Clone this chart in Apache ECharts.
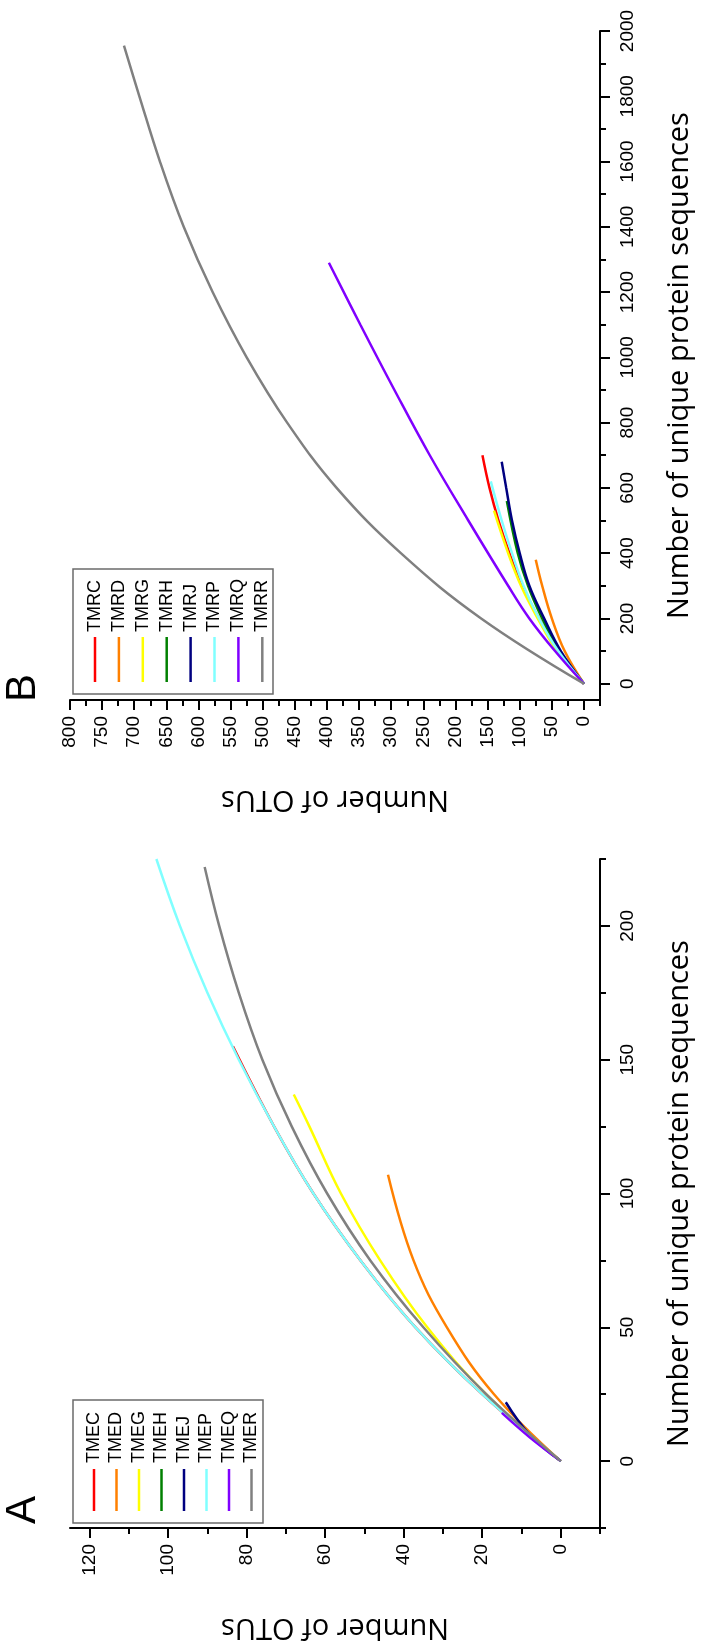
<!DOCTYPE html>
<html>
<head>
<meta charset="utf-8">
<script src="https://cdn.jsdelivr.net/npm/echarts@6/dist/echarts.min.js"></script>
<style>
html,body{margin:0;padding:0;background:#fff;}
#chart{width:702px;height:1648px;}
</style>
</head>
<body>
<div id="chart"></div>
<script>
// ---------- DATA ----------
// Panel A (TME samples): sequences (vertical axis) and OTUs (horizontal axis)
const namesA = ['TMEC','TMED','TMEG','TMEH','TMEJ','TMEP','TMEQ','TMER'];
const seqA = {
  TMEC: [0, 25, 50, 75, 100, 125, 155],
  TMED: [0, 25, 50, 75, 107],
  TMEG: [0, 25, 50, 75, 100, 125, 137],
  TMEH: [0, 6, 11],
  TMEJ: [0, 10, 22],
  TMEP: [0, 25, 50, 75, 100, 125, 150, 175, 200, 225],
  TMEQ: [0, 9, 18],
  TMER: [0, 25, 50, 75, 100, 125, 150, 175, 200, 222]
};
const otuA = {
  TMEC: [0, 20, 37, 51, 63, 73, 83.5],
  TMED: [0, 17, 29, 37.5, 44],
  TMEG: [0, 19, 34, 46, 56, 64, 68],
  TMEH: [0, 5, 9],
  TMEJ: [0, 8, 14],
  TMEP: [0, 20, 37, 51, 63, 73, 82, 90, 97, 103],
  TMEQ: [0, 8, 15],
  TMER: [0, 19, 35, 48.5, 59.5, 68.5, 76, 82, 87, 90.7]
};
// Panel B (TMR samples)
const namesB = ['TMRC','TMRD','TMRG','TMRH','TMRJ','TMRP','TMRQ','TMRR'];
const seqB = {
  TMRC: [0, 100, 200, 300, 400, 500, 600, 700],
  TMRD: [0, 100, 200, 300, 380],
  TMRG: [0, 100, 200, 300, 400, 530],
  TMRH: [0, 100, 200, 300, 400, 560],
  TMRJ: [0, 100, 200, 300, 400, 500, 600, 680],
  TMRP: [0, 100, 200, 300, 400, 500, 620],
  TMRQ: [0, 100, 200, 300, 500, 700, 900, 1100, 1290],
  TMRR: [0, 200, 400, 600, 800, 1000, 1200, 1400, 1600, 1800, 1955]
};
const otuB = {
  TMRC: [0, 40, 70, 96, 116, 133, 147, 158],
  TMRD: [0, 30, 50, 65, 75],
  TMRG: [0, 42, 72, 98, 118, 140],
  TMRH: [0, 38, 65, 87, 103, 120],
  TMRJ: [0, 36, 62, 85, 100, 112, 121, 128],
  TMRP: [0, 40, 70, 94, 112, 128, 145],
  TMRQ: [0, 45, 85, 118, 180, 240, 295, 348, 397],
  TMRR: [0, 160, 285, 385, 462, 525, 578, 623, 660, 692, 716]
};
const colors = ['#ff0000','#ff8000','#ffff00','#008000','#000080','#80ffff','#8000ff','#808080'];

// Axis tick values
const ticksA_otu = [0, 20, 40, 60, 80, 100, 120];
const minorA_otu = [-10, 10, 30, 50, 70, 90, 110];
const ticksA_seq = [0, 50, 100, 150, 200];
const minorA_seq = [-25, 25, 75, 125, 175, 225];
const ticksB_otu = [0,50,100,150,200,250,300,350,400,450,500,550,600,650,700,750,800];
const minorB_otu = [-25,25,75,125,175,225,275,325,375,425,475,525,575,625,675,725,775];
const ticksB_seq = [0,200,400,600,800,1000,1200,1400,1600,1800,2000];
const minorB_seq = [100,300,500,700,900,1100,1300,1500,1700,1900];

const xTitle = 'Number of OTUs';
const yTitle = 'Number of unique protein sequences';

// ---------- LAYOUT ----------
const G = { left: 70, width: 544, height: 669 };
const gridTopB = 31, gridTopA = 859;
const labelFont = '"Liberation Sans", Arial, sans-serif';
const titleFont = '"Open Sans", sans-serif';
const plain = v => String(v);

function mainX(gi, min, max, ticks) {
  return {
    type: 'value', gridIndex: gi, min: min, max: max, inverse: true, position: 'bottom',
    splitLine: { show: false },
    axisLine: { show: true, onZero: false, lineStyle: { color: '#000', width: 2 } },
    axisTick: { show: true, inside: false, length: 10, customValues: ticks, lineStyle: { color: '#000', width: 2 } },
    axisLabel: { show: true, customValues: ticks, rotate: 90, margin: 16, color: '#000', fontSize: 19, fontFamily: labelFont, formatter: plain },
    name: xTitle, nameLocation: 'middle', nameRotate: 180, nameGap: 85,
    nameTextStyle: { color: '#000', fontSize: 29, fontFamily: titleFont }
  };
}
function minorX(gi, min, max, ticks) {
  return {
    type: 'value', gridIndex: gi, min: min, max: max, inverse: true, position: 'bottom',
    splitLine: { show: false },
    axisLine: { show: false, onZero: false },
    axisTick: { show: true, inside: false, length: 6, customValues: ticks, lineStyle: { color: '#000', width: 2 } },
    axisLabel: { show: false }
  };
}
function mainY(gi, min, max, ticks) {
  return {
    type: 'value', gridIndex: gi, min: min, max: max, position: 'right',
    splitLine: { show: false },
    axisLine: { show: true, onZero: false, lineStyle: { color: '#000', width: 2 } },
    axisTick: { show: true, inside: false, length: 10, customValues: ticks, lineStyle: { color: '#000', width: 2 } },
    axisLabel: { show: true, customValues: ticks, rotate: 90, margin: 18, color: '#000', fontSize: 19, fontFamily: labelFont, formatter: plain },
    name: yTitle, nameLocation: 'middle', nameRotate: 90, nameGap: 65,
    nameTextStyle: { color: '#000', fontSize: 29, fontFamily: titleFont }
  };
}
function minorY(gi, min, max, ticks) {
  return {
    type: 'value', gridIndex: gi, min: min, max: max, position: 'right',
    splitLine: { show: false },
    axisLine: { show: false, onZero: false },
    axisTick: { show: true, inside: false, length: 6, customValues: ticks, lineStyle: { color: '#000', width: 2 } },
    axisLabel: { show: false }
  };
}

const series = [];
function addSeries(names, seqs, otus, xi, yi) {
  names.forEach((n, i) => {
    series.push({
      name: n, type: 'line', xAxisIndex: xi, yAxisIndex: yi,
      data: seqs[n].map((s, k) => [otus[n][k], s]),
      smooth: 0.4, showSymbol: false, symbol: 'none',
      lineStyle: { color: colors[i], width: 2.5 }, itemStyle: { color: colors[i] },
      z: 3, silent: true, animation: false
    });
  });
}
addSeries(namesB, seqB, otuB, 0, 0);
addSeries(namesA, seqA, otuA, 2, 2);

// Legends (rotated) as graphic elements
function legendGraphic(names, box, firstX, step, lineTop, lineBottom, textBottom) {
  const els = [{
    type: 'rect', shape: { x: box.x, y: box.y, width: box.w, height: box.h },
    style: { fill: '#fff', stroke: '#6b6b6b', lineWidth: 1.5 }, z: 10
  }];
  names.forEach((n, i) => {
    const x = firstX + i * step;
    els.push({ type: 'line', shape: { x1: x, y1: lineTop, x2: x, y2: lineBottom },
      style: { stroke: colors[i], lineWidth: 2.5 }, z: 11 });
    els.push({ type: 'text', x: x, y: textBottom, rotation: Math.PI / 2,
      style: { text: n, fill: '#000', font: '18px ' + labelFont, align: 'left', verticalAlign: 'middle' }, z: 11 });
  });
  return els;
}
const graphics = []
  .concat(legendGraphic(namesB, { x: 73, y: 569, w: 200, h: 125 }, 95, 23.9, 637, 682, 632))
  .concat(legendGraphic(namesA, { x: 73, y: 1400, w: 190, h: 123 }, 94, 22.5, 1469, 1511, 1463))
  .concat([
    { type: 'text', x: 23, y: 688, rotation: Math.PI / 2,
      style: { text: 'B', fill: '#000', font: '42px ' + labelFont, align: 'center', verticalAlign: 'middle' } },
    { type: 'text', x: 23, y: 1510, rotation: Math.PI / 2,
      style: { text: 'A', fill: '#000', font: '42px ' + labelFont, align: 'center', verticalAlign: 'middle' } }
  ]);

const chart = echarts.init(document.getElementById('chart'), null, { renderer: 'canvas' });
chart.setOption({
  animation: false,
  backgroundColor: '#fff',
  grid: [
    { left: G.left, top: gridTopB, width: G.width, height: G.height, containLabel: false },
    { left: G.left, top: gridTopA, width: G.width, height: G.height, containLabel: false }
  ],
  xAxis: [
    mainX(0, -25, 800, ticksB_otu), minorX(0, -25, 800, minorB_otu),
    mainX(1, -10, 125, ticksA_otu), minorX(1, -10, 125, minorA_otu)
  ],
  yAxis: [
    mainY(0, -50, 2000, ticksB_seq), minorY(0, -50, 2000, minorB_seq),
    mainY(1, -25, 225, ticksA_seq), minorY(1, -25, 225, minorA_seq)
  ],
  series: series,
  graphic: graphics
});
</script>
</body>
</html>
